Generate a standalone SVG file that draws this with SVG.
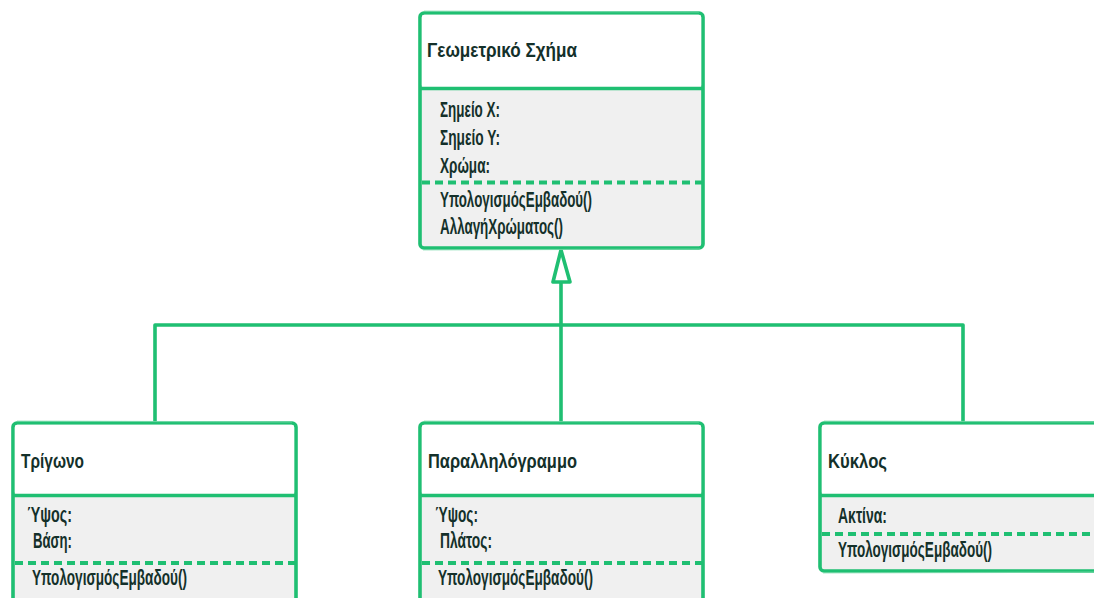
<svg xmlns="http://www.w3.org/2000/svg" width="1094" height="598" viewBox="0 0 1094 598">
  <defs>
    <style>
      .box { fill: #f0f0f0; stroke: #1fbf72; stroke-width: 3.6; }
      .head { fill: #ffffff; stroke: none; }
      .sep { stroke: #1fbf72; stroke-width: 3.6; fill: none; }
      .dash { stroke: #1fbf72; stroke-width: 3.8; stroke-dasharray: 8 5; fill: none; }
      .sketch { stroke: #7fdcae; stroke-width: 1.2; fill: none; opacity: 0.7; }
      .conn { stroke: #1fbf72; stroke-width: 3.6; fill: none; stroke-linejoin: round; }
      .title { font-family: "Liberation Sans Narrow", "Liberation Sans", "DejaVu Sans", sans-serif; font-weight: bold; font-size: 21px; fill: #14302a; }
      .item { font-family: "Liberation Sans Narrow", "Liberation Sans", "DejaVu Sans", sans-serif; font-weight: bold; font-size: 22px; fill: #14302a; }
    </style>
  </defs>

  <!-- inheritance connectors -->
  <g id="connectors">
    <path class="conn" d="M155,423 V325 H963 V423"/>
    <path class="conn" d="M561,423 V282"/>
    <path class="conn" d="M561,250 L553,282 L570,282 Z" style="fill:#ffffff"/>
  </g>

  <!-- parent class -->
  <g id="geometric-shape">
    <rect class="box" x="420" y="13" width="283" height="235" rx="4"/>
    <rect class="head" x="421.8" y="14.8" width="279.4" height="73" rx="3"/>
    <line class="sep" x1="420" y1="88.5" x2="703" y2="88.5"/>
    <line class="sketch" x1="424" y1="11" x2="699" y2="12"/>
    <line class="sketch" x1="423" y1="250" x2="700" y2="249"/>
    <line class="dash" x1="422" y1="182.5" x2="702" y2="182.5"/>
    <text class="title" x="427" y="57" textLength="150" lengthAdjust="spacingAndGlyphs">Γεωμετρικό Σχήμα</text>
    <text class="item" x="440" y="117" textLength="60" lengthAdjust="spacingAndGlyphs">Σημείο Χ:</text>
    <text class="item" x="440" y="145" textLength="60" lengthAdjust="spacingAndGlyphs">Σημείο Υ:</text>
    <text class="item" x="440" y="173" textLength="50" lengthAdjust="spacingAndGlyphs">Χρώμα:</text>
    <text class="item" x="440" y="207" textLength="152" lengthAdjust="spacingAndGlyphs">ΥπολογισμόςΕμβαδού()</text>
    <text class="item" x="440" y="234" textLength="123" lengthAdjust="spacingAndGlyphs">ΑλλαγήΧρώματος()</text>
  </g>

  <!-- triangle class -->
  <g id="triangle">
    <rect class="box" x="13" y="423" width="283" height="190" rx="4"/>
    <rect class="head" x="14.8" y="424.8" width="279.4" height="70" rx="3"/>
    <line class="sep" x1="13" y1="495.5" x2="296" y2="495.5"/>
    <line class="sketch" x1="17" y1="421" x2="292" y2="422"/>
    <line class="dash" x1="15" y1="563" x2="295" y2="563"/>
    <text class="title" x="21" y="468" textLength="63" lengthAdjust="spacingAndGlyphs">Τρίγωνο</text>
    <text class="item" x="27" y="522" textLength="45" lengthAdjust="spacingAndGlyphs">Ύψος:</text>
    <text class="item" x="33" y="548" textLength="39" lengthAdjust="spacingAndGlyphs">Βάση:</text>
    <text class="item" x="32" y="585" textLength="155" lengthAdjust="spacingAndGlyphs">ΥπολογισμόςΕμβαδού()</text>
  </g>

  <!-- parallelogram class -->
  <g id="parallelogram">
    <rect class="box" x="420" y="423" width="283" height="190" rx="4"/>
    <rect class="head" x="421.8" y="424.8" width="279.4" height="70" rx="3"/>
    <line class="sep" x1="420" y1="495.5" x2="703" y2="495.5"/>
    <line class="sketch" x1="424" y1="421" x2="699" y2="422"/>
    <line class="dash" x1="422" y1="563" x2="702" y2="563"/>
    <text class="title" x="428" y="468" textLength="149" lengthAdjust="spacingAndGlyphs">Παραλληλόγραμμο</text>
    <text class="item" x="435" y="522" textLength="43" lengthAdjust="spacingAndGlyphs">Ύψος:</text>
    <text class="item" x="440" y="548" textLength="52" lengthAdjust="spacingAndGlyphs">Πλάτος:</text>
    <text class="item" x="438" y="585" textLength="155" lengthAdjust="spacingAndGlyphs">ΥπολογισμόςΕμβαδού()</text>
  </g>

  <!-- circle class -->
  <g id="circle">
    <rect class="box" x="820" y="423" width="290" height="148" rx="4"/>
    <rect class="head" x="821.8" y="424.8" width="286" height="70" rx="3"/>
    <line class="sep" x1="820" y1="495.5" x2="1110" y2="495.5"/>
    <line class="sketch" x1="824" y1="421" x2="1094" y2="422"/>
    <line class="sketch" x1="823" y1="573" x2="1094" y2="572"/>
    <line class="dash" x1="822" y1="534" x2="1110" y2="534"/>
    <text class="title" x="828" y="468" textLength="59" lengthAdjust="spacingAndGlyphs">Κύκλος</text>
    <text class="item" x="838" y="523" textLength="49" lengthAdjust="spacingAndGlyphs">Ακτίνα:</text>
    <text class="item" x="838" y="557" textLength="154" lengthAdjust="spacingAndGlyphs">ΥπολογισμόςΕμβαδού()</text>
  </g>
</svg>
